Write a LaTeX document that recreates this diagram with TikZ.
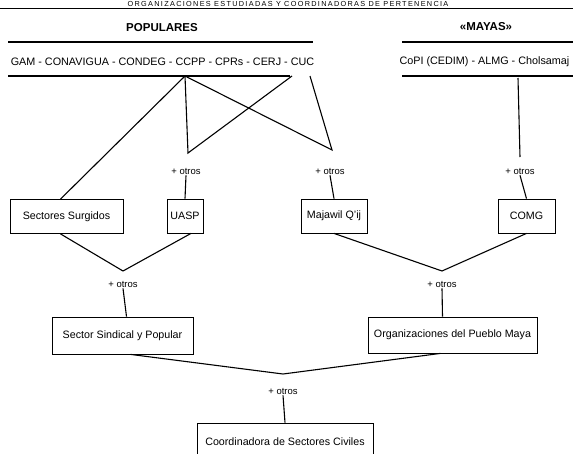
\documentclass[tikz,border=0pt]{standalone}
\usepackage{fontspec}
\setmainfont{Liberation Sans}
\usepackage{tikz}
\usetikzlibrary{positioning}
\tikzstyle{box} = [rectangle, draw=black, line width=0.8pt, minimum height=34pt, inner sep=2pt, text centered, font=\fontsize{10.7}{12}\selectfont]
\tikzstyle{otros} = [inner sep=1pt, font=\fontsize{9.5}{11}\selectfont]
\tikzstyle{group} = [font=\fontsize{11.5}{13}\selectfont\bfseries]
\tikzstyle{member} = [font=\fontsize{10.8}{13}\selectfont]
\tikzstyle{link} = [line width=1.1pt]
\tikzstyle{rule} = [line width=1.4pt]

\begin{document}
\begin{tikzpicture}[x=1pt, y=-1pt]
    \useasboundingbox (0,0) rectangle (573,453);
    \clip (0,0) rectangle (573,453);

    \node (title)  [anchor=base, inner sep=0pt, font=\fontsize{7.3}{8}\selectfont\addfontfeature{LetterSpace=18}] at (288,6.2) {ORGANIZACIONES ESTUDIADAS Y COORDINADORAS DE PERTENENCIA};
    \node (pop)    [group] at (162,28) {POPULARES};
    \node (may)    [group] at (486,27) {«MAYAS»};
    \node (popmem) [member] at (162.5,62) {GAM - CONAVIGUA - CONDEG - CCPP - CPRs - CERJ - CUC};
    \node (maymem) [member, anchor=west] at (396,62) {CoPI (CEDIM) - ALMG - Cholsamaj};

    \node (sur)    [box, minimum width=113pt] at (66.5,216.5) {Sectores Surgidos};
    \node (uasp)   [box, minimum width=36pt] at (185,216) {UASP};
    \node (maj)    [box, minimum width=66pt] at (334,216) {Majawil Q'ij};
    \node (comg)   [box, minimum width=57pt] at (526.5,216) {COMG};
    \node (sind)   [box, minimum width=141pt, minimum height=37pt] at (122.5,335.5) {Sector Sindical y Popular};
    \node (pueblo) [box, minimum width=169pt, minimum height=36pt] at (452.5,335) {Organizaciones del Pueblo Maya};
    \node (coord)  [box, minimum width=176pt, minimum height=37pt] at (285,441.5) {Coordinadora de Sectores Civiles};

    \node (o1) [otros] at (186,171) {+ otros};
    \node (o2) [otros] at (330,171) {+ otros};
    \node (o3) [otros] at (520,171) {+ otros};
    \node (o4) [otros] at (123,284) {+ otros};
    \node (o5) [otros] at (442,284) {+ otros};
    \node (o6) [otros] at (283,391) {+ otros};

    \coordinate (ccpp) at (185,76);
    \coordinate (cerj) at (292,76);
    \coordinate (cuc)  at (310,76);
    \coordinate (copi) at (518,78);
    \coordinate (a1) at (188,153);
    \coordinate (a2) at (332,150);
    \coordinate (a3) at (520,157);
    \coordinate (b1) at (123,271);
    \coordinate (b2) at (442,271);
    \coordinate (c1) at (283,374);

    \draw [rule] (0,8.5) -- (573,8.5);
    \draw [rule] (8,42) -- (313,42);
    \draw [rule] (402,42) -- (573,42);
    \draw [rule] (8,76) -- (290,76);
    \draw [rule] (402,76) -- (573,76);

    \draw [link] (ccpp) -- ([xshift=-6pt]sur.north);
    \draw [link] (ccpp) -- (a1) -- (cerj);
    \draw [link] (ccpp) -- (a2) -- (cuc);
    \draw [link] (copi) -- (a3);
    \draw [link] (o1.south) -- (uasp.north);
    \draw [link] (o2.south) -- (maj.north);
    \draw [link] (o3.south) -- (comg.north);
    \draw [link] ([xshift=-6pt]sur.south) -- (b1) -- ([xshift=6pt]uasp.south);
    \draw [link] (maj.south) -- (b2) -- (comg.south);
    \draw [link] (o4.south) -- ([xshift=4pt]sind.north);
    \draw [link] (o5.south) -- ([xshift=-10pt]pueblo.north);
    \draw [link] ([xshift=8pt]sind.south) -- (c1) -- ([xshift=-12pt]pueblo.south);
    \draw [link] (o6.south) -- (coord.north);
\end{tikzpicture}
\end{document}
